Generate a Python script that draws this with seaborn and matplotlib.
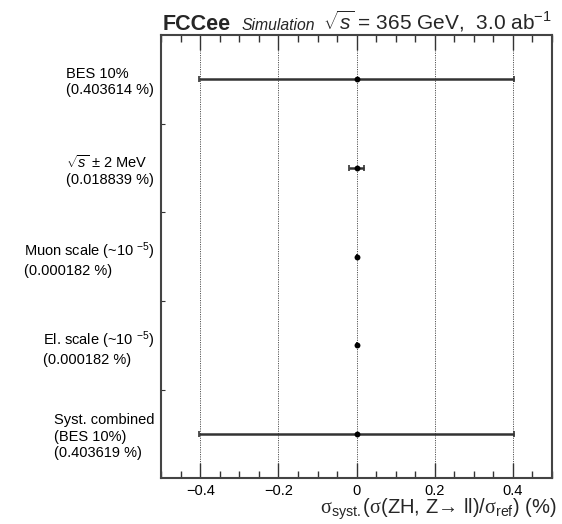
import matplotlib
matplotlib.use("Agg")
import matplotlib.pyplot as plt
import seaborn as sns
import numpy as np
import pandas as pd
from matplotlib.ticker import MultipleLocator, FixedLocator

# ---- data ----
labels = [
    "BES 10%\n(0.403614 %)",
    "$\\sqrt{s}$ ± 2 MeV\n(0.018839 %)",
    "Muon scale (~10 $^{-5}$)\n(0.000182 %)",
    "El. scale (~10 $^{-5}$)\n(0.000182 %)",
    "Syst. combined\n(BES 10%)\n(0.403619 %)",
]
central = [0.0, 0.0, 0.0, 0.0, 0.0]
uncert = [0.403614, 0.018839, 0.000182, 0.000182, 0.403619]
xticks = [-0.4, -0.2, 0.0, 0.2, 0.4]
xtick_labels = ["−0.4", "−0.2", "0", "0.2", "0.4"]

sns.set_theme(style="white")
plt.rcParams['font.family'] = ['Liberation Sans', 'DejaVu Sans']
plt.rcParams['mathtext.fontset'] = 'custom'
plt.rcParams['mathtext.rm'] = 'Liberation Sans'
plt.rcParams['mathtext.it'] = 'Liberation Sans:italic'
plt.rcParams['mathtext.bf'] = 'Liberation Sans:bold'
plt.rcParams['mathtext.sf'] = 'Liberation Serif'

df = pd.DataFrame({"label": labels, "value": central, "err": uncert})
df["pos"] = np.arange(len(df)) + 0.5

fig = plt.figure(figsize=(5.62, 5.24), dpi=100)
ax = fig.add_axes([0.287, 0.0872, 0.695, 0.846])

# grid lines
for xv in xticks:
    ax.axvline(xv, color="#555555", linestyle=(0, (1.2, 1.2)), linewidth=0.7, zorder=0)

ax.errorbar(df["value"], df["pos"], xerr=df["err"], fmt="none",
            ecolor="#333333", elinewidth=1.8, capsize=2, capthick=1.2, zorder=2)
sns.scatterplot(data=df, x="value", y="pos", ax=ax, color="black", s=18,
                edgecolor="black", linewidth=0, zorder=3, legend=False)

ax.set_xlim(-0.5, 0.5)
ax.set_ylim(5, 0)
ax.set_xticks(xticks)
ax.set_xticklabels(xtick_labels, fontsize=10.5)
ax.xaxis.set_minor_locator(MultipleLocator(0.05))
ax.set_yticks(df["pos"])
ax.set_yticklabels(df["label"], fontsize=10.5)
for t in ax.get_yticklabels():
    t.set_multialignment("left")
ax.yaxis.set_minor_locator(FixedLocator([1, 2, 3, 4]))

ax.tick_params(axis="x", which="major", direction="in", length=11, width=1.0,
               top=True, bottom=True, color="#333333", pad=4, labelcolor="black")
ax.tick_params(axis="x", which="minor", direction="in", length=5, width=1.0,
               top=True, bottom=True, color="#333333")
ax.tick_params(axis="y", which="major", length=0, pad=5, labelcolor="black")
ax.tick_params(axis="y", which="minor", direction="in", length=3, width=0.8,
               left=True, color="#333333")

for sp in ax.spines.values():
    sp.set_color("#444444")
    sp.set_linewidth(1.5)

ax.set_xlabel("")
ax.set_ylabel("")
fig.text(557 / 562, 1 - 514 / 524,
         r"$\mathsf{\sigma}_{\mathrm{syst.}}(\mathsf{\sigma}$(ZH, Z→ ll)/$\mathsf{\sigma}_{\mathrm{ref}}$) (%)",
         fontsize=14.5, ha="right", va="baseline")

# title pieces
yb = 1 - 29.5 / 524
fig.text(162.7 / 562, yb, "FCCee", fontsize=15.5, fontweight="bold", va="baseline", ha="left")
fig.text(241.7 / 562, yb, "Simulation", fontsize=11.3, fontstyle="italic", va="baseline", ha="left")
fig.text(323 / 562, yb, "$\\sqrt{s}$ = 365 GeV,  3.0 ab$^{-1}$", fontsize=15, va="baseline", ha="left")

fig.savefig("out.png", dpi=100)
